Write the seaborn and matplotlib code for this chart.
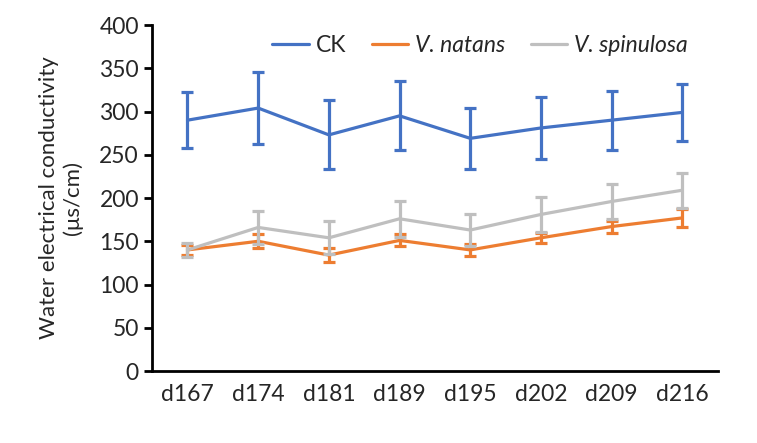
import numpy as np
import pandas as pd
import matplotlib
matplotlib.use('Agg')
import matplotlib.pyplot as plt
import seaborn as sns

# values
days = ['d167', 'd174', 'd181', 'd189', 'd195', 'd202', 'd209', 'd216']
ck = [290, 304, 273, 295, 269, 281, 290, 299]
ck_err = [32, 42, 40, 40, 35, 36, 34, 33]
natans = [140, 150, 134, 151, 140, 154, 167, 177]
natans_err = [6, 8, 8, 7, 6.5, 6, 7, 10]
spinulosa = [140, 166, 154, 176, 163, 181, 196, 209]
spinulosa_err = [8, 19, 19, 21, 19, 20, 20, 20]

groups = ['CK', 'V. natans', 'V. spinulosa']
colors = ['#4472C4', '#ED7D31', '#BFBFBF']

df = pd.DataFrame({
    'day': days * 3,
    'value': ck + natans + spinulosa,
    'err': ck_err + natans_err + spinulosa_err,
    'group': [g for g in groups for _ in days],
})

sns.set_style('white')
plt.rcParams['font.family'] = ['Lato', 'DejaVu Sans']

fig = plt.figure(figsize=(7.57, 4.43), dpi=100)
ax = fig.add_axes([0.201, 0.1625, 0.747, 0.781])

sns.lineplot(data=df, x='day', y='value', hue='group', palette=colors,
             linewidth=2.3, ax=ax, sort=False, errorbar=None)

for g, c in zip(groups, colors):
    sub = df[df['group'] == g]
    ax.errorbar(np.arange(len(days)), sub['value'], yerr=sub['err'], fmt='none',
                ecolor=c, elinewidth=2.3, capsize=4, capthick=2.3)

ax.set_xlim(-0.5, len(days) - 0.5)
ax.set_ylim(0, 400)
ax.set_yticks(range(0, 401, 50))
ax.set_xticks(range(len(days)))
ax.set_xticklabels(days)
ax.set_xticks(np.arange(-0.5, len(days), 1), minor=True)
ax.tick_params(axis='x', which='major', length=0, labelsize=16.5, pad=9)
ax.tick_params(axis='x', which='minor', length=6, width=2, direction='out', color='black')
ax.tick_params(axis='y', length=6, width=2, direction='out', color='black', labelsize=16.5, left=True)

for s in ['top', 'right']:
    ax.spines[s].set_visible(False)
for s in ['left', 'bottom']:
    ax.spines[s].set_linewidth(2)
    ax.spines[s].set_color('black')

ax.set_xlabel('')
ax.set_ylabel('Water electrical conductivity\n(μs/cm)', fontsize=16, labelpad=12)

leg = ax.legend(loc='upper center', bbox_to_anchor=(0.58, 1.03), ncol=3, frameon=False,
                fontsize=16.5, handlelength=1.6, columnspacing=1.1, handletextpad=0.3)
for t in leg.get_texts()[1:]:
    t.set_fontstyle('italic')

fig.savefig('out.png', dpi=100)
